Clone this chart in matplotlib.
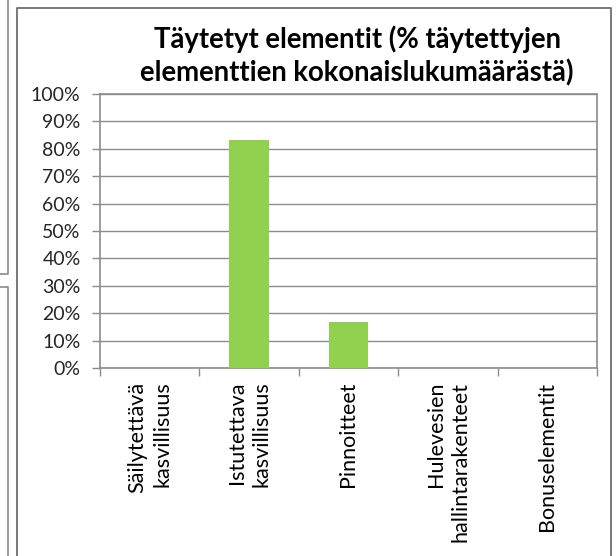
import numpy as np
import matplotlib
matplotlib.use('Agg')
import matplotlib.pyplot as plt
from matplotlib.lines import Line2D

plt.rcParams['font.family'] = ['Lato', 'DejaVu Sans']

categories = ["Säilytettävä\nkasvillisuus", "Istutettava\nkasvillisuus",
              "Pinnoitteet", "Hulevesien\nhallintarakenteet", "Bonuselementit"]
values = [0.0, 83.33, 16.67, 0.0, 0.0]
yticks = [0, 10, 20, 30, 40, 50, 60, 70, 80, 90, 100]
title = "Täytetyt elementit (% täytettyjen\nelementtien kokonaislukumäärästä)"

W, H = 616, 556
fig = plt.figure(figsize=(W / 100, H / 100), dpi=100)

# ── reunaviivat (kaavion kehys + viereisten kaavioiden reunat) ──
def fline(xs, ys, color='#7f7f7f', lw=1.2):
    fig.add_artist(Line2D([x / W for x in xs], [1 - y / H for y in ys],
                          color=color, lw=lw, transform=fig.transFigure))

fline([17, 17, 611, 611], [H, 8, 8, H], color='#6e6e6e', lw=1.3)
fline([8, 8, 0], [0, 274, 274], color='#8a8a8a')
fline([0, 8, 8], [287, 287, H], color='#8a8a8a')

x0, x1, y0, y1 = 100, 597, 94, 368
ax = fig.add_axes([x0 / W, 1 - y1 / H, (x1 - x0) / W, (y1 - y0) / H])

x = np.arange(len(categories))
ax.bar(x, values, width=0.4, color='#92d050', zorder=3)

ax.set_xlim(-0.5, len(categories) - 0.5)
ax.set_ylim(0, 100)
ax.set_yticks(yticks)
ax.set_yticklabels([f"{v}%" for v in yticks], fontsize=14, color='#262626')
ax.yaxis.grid(True, color='#8c8c8c', lw=1.0, zorder=0)
ax.set_axisbelow(True)

ax.set_xticks(np.arange(len(categories) + 1) - 0.5)
ax.set_xticklabels([])
ax.tick_params(axis='both', length=6, color='#8c8c8c', width=1.0)
ax.tick_params(axis='y', pad=8)

for s in ax.spines.values():
    s.set_color('#8c8c8c')
    s.set_linewidth(1.2)

for i, c in enumerate(categories):
    ax.text(i, -0.05, c, transform=ax.get_xaxis_transform(),
            rotation=90, ha='center', va='top', multialignment='right',
            fontsize=15.5, color='#000000', linespacing=1.3)

fig.text(357 / W, 1 - 56 / H, title, ha='center', va='center',
         fontsize=19.8, fontweight='bold', color='#000000', linespacing=1.28)

fig.savefig('out.png', dpi=100)
